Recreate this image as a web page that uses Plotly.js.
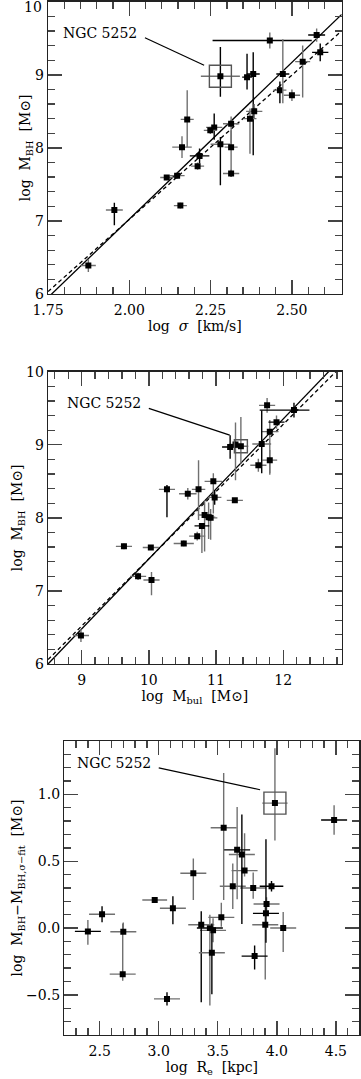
<!DOCTYPE html>
<html>
<head>
<meta charset="utf-8">
<script src="https://cdn.plot.ly/plotly-3.0.1.min.js"></script>
<style>html,body{margin:0;padding:0;background:#fff;}#chart{width:361px;height:1079px;}</style>
</head>
<body>
<div id="chart"></div>
<script>
// ---------- Panel 1: log sigma vs log M_BH ----------
const sig_x   = [2.28, 2.432, 2.576, 2.587, 2.533, 2.472, 2.463, 2.500, 2.362, 2.381, 2.384, 2.371, 2.178, 2.162, 2.261, 2.249, 2.313, 2.28, 2.313, 2.313, 2.216, 2.21, 2.115, 2.147, 2.157, 1.954, 1.874];
const sig_y   = [8.98, 9.47, 9.544, 9.307, 9.18, 9.01, 8.79, 8.72, 8.968, 9.01, 8.50, 8.40, 8.39, 8.01, 8.28, 8.24, 8.33, 8.05, 8.01, 7.65, 7.89, 7.75, 7.595, 7.62, 7.21, 7.15, 6.39];
const sig_exm = [0.06, 0.176, 0.026, 0.025, 0.023, 0.02, 0.02, 0.025, 0.015, 0.02, 0.025, 0.02, 0.02, 0.03, 0.025, 0.02, 0.025, 0.03, 0.02, 0.025, 0.03, 0.02, 0.02, 0.023, 0.02, 0.026, 0.023];
const sig_exp = [0.06, 0.129, 0.026, 0.025, 0.023, 0.02, 0.02, 0.025, 0.015, 0.02, 0.025, 0.02, 0.02, 0.03, 0.025, 0.02, 0.025, 0.03, 0.02, 0.025, 0.03, 0.02, 0.02, 0.023, 0.02, 0.026, 0.023];
const sig_eym = [0.28, 0.11, 0.09, 0.12, 0.49, 0.40, 0.18, 0.08, 0.17, 1.11, 0.10, 0.48, 0.38, 0.15, 0.17, 0.05, 0.35, 0.56, 0.41, 0.05, 0.10, 0.05, 0.02, 0.04, 0.04, 0.21, 0.09];
const sig_eyp = [0.40, 0.11, 0.09, 0.12, 0.22, 0.475, 0.12, 0.08, 0.32, 0.30, 0.10, 0.14, 0.40, 0.15, 0.19, 0.05, 0.10, 0.10, 0.23, 0.05, 0.10, 0.05, 0.02, 0.04, 0.04, 0.10, 0.09];
const sig_cx  = ['g','k','k','k','g','k','g','g','k','k','g','g','g','g','g','g','g','g','g','g','k','g','g','g','g','g','g'];
const sig_cy  = ['k','g','g','k','g','g','k','g','k','k','g','g','g','g','k','g','g','k','g','g','k','g','g','g','g','k','g'];
// fits: y = a + b*x  (solid, dashed)
const sig_fit_a = [-1.555, -0.879];
const sig_fit_b = [4.29, 3.95];

// ---------- Panel 2: log M_bul vs log M_BH ----------
const bul_x   = [11.37, 11.21, 11.29, 11.76, 12.16, 11.90, 11.80, 11.68, 11.63, 11.80, 10.96, 10.27, 10.58, 10.74, 10.98, 11.28, 10.83, 10.89, 10.92, 10.79, 10.72, 10.52, 10.03, 9.63, 9.84, 10.04, 8.99];
const bul_y   = [8.98, 8.97, 9.005, 9.54, 9.475, 9.31, 9.18, 9.01, 8.72, 8.79, 8.50, 8.39, 8.33, 8.39, 8.28, 8.24, 8.04, 8.01, 8.00, 7.89, 7.75, 7.65, 7.595, 7.61, 7.20, 7.15, 6.39];
const bul_exm = [0.11, 0.12, 0.10, 0.12, 0.51, 0.12, 0.13, 0.14, 0.12, 0.11, 0.13, 0.12, 0.13, 0.10, 0.10, 0.12, 0.10, 0.10, 0.10, 0.11, 0.12, 0.15, 0.12, 0.12, 0.12, 0.12, 0.12];
const bul_exp = [0.11, 0.12, 0.10, 0.12, 0.23, 0.12, 0.13, 0.14, 0.12, 0.11, 0.13, 0.12, 0.13, 0.10, 0.10, 0.12, 0.10, 0.10, 0.10, 0.11, 0.12, 0.15, 0.12, 0.12, 0.12, 0.12, 0.12];
const bul_eym = [0.24, 0.16, 0.49, 0.10, 0.10, 0.09, 0.57, 0.40, 0.09, 0.20, 0.44, 0.38, 0.08, 0.42, 0.10, 0.03, 0.50, 0.30, 0.30, 0.37, 0.06, 0.04, 0.02, 0.04, 0.05, 0.21, 0.09];
const bul_eyp = [0.40, 0.16, 0.30, 0.10, 0.10, 0.09, 0.16, 0.46, 0.09, 0.14, 0.11, 0.06, 0.08, 0.40, 0.10, 0.03, 0.20, 0.20, 0.12, 0.03, 0.06, 0.04, 0.02, 0.04, 0.05, 0.11, 0.09];
const bul_cx  = ['g','k','g','g','k','k','g','g','g','g','g','g','g','g','g','g','g','g','g','k','g','g','g','g','g','g','g'];
const bul_cy  = ['g','k','g','g','k','g','g','k','g','g','g','k','g','g','k','g','g','g','g','g','g','g','g','g','g','g','g'];
const bul_fit_a = [-2.143, -1.76];
const bul_fit_b = [0.958, 0.92];

// ---------- Panel 3: log R_e vs residual ----------
const re_x   = [3.984, 4.485, 3.55, 3.664, 3.704, 3.727, 3.293, 3.627, 3.80, 3.955, 3.913, 3.908, 3.902, 4.054, 3.812, 3.53, 3.36, 3.433, 3.46, 3.45, 3.12, 2.966, 2.52, 2.40, 2.70, 2.695, 3.07];
const re_y   = [0.935, 0.808, 0.75, 0.585, 0.55, 0.43, 0.41, 0.313, 0.30, 0.313, 0.18, 0.11, 0.025, 0.0, -0.21, 0.08, 0.025, 0.0, -0.017, -0.185, 0.148, 0.21, 0.103, -0.025, -0.028, -0.345, -0.53];
const re_ex  = [0.107, 0.11, 0.11, 0.11, 0.11, 0.11, 0.11, 0.11, 0.11, 0.10, 0.11, 0.11, 0.11, 0.11, 0.11, 0.11, 0.11, 0.11, 0.11, 0.11, 0.11, 0.105, 0.11, 0.11, 0.11, 0.11, 0.11];
const re_eym = [0.28, 0.11, 0.54, 0.37, 0.52, 0.045, 0.20, 0.17, 0.08, 0.04, 0.05, 0.22, 0.41, 0.18, 0.10, 0.07, 0.58, 0.58, 0.09, 0.31, 0.12, 0.015, 0.06, 0.10, 0.0, 0.05, 0.05];
const re_eyp = [0.41, 0.11, 0.41, 0.32, 0.30, 0.28, 0.11, 0.17, 0.115, 0.04, 0.05, 0.555, 0.15, 0.12, 0.08, 0.11, 0.10, 0.10, 0.09, 0.22, 0.09, 0.015, 0.06, 0.085, 0.07, 0.38, 0.05];
const re_cx  = ['g','k','g','k','g','g','g','g','g','k','g','k','g','g','k','g','g','k','g','g','g','g','g','k','g','g','g'];
const re_cy  = ['g','g','g','g','k','g','g','g','g','k','g','k','g','g','k','g','k','g','g','k','k','g','k','g','g','g','k'];

const labelText = 'NGC 5252';
const mbhTicks = [6, 7, 8, 9, 10];

const FONT = 'DejaVu Serif';
const COL = {k: '#000000', g: '#707070'};
const traces = [];

function addPoints(xa, ya, X, Y, exm, exp, eym, eyp, cx, cy) {
  const groups = {};
  X.forEach((v, i) => { const key = cx[i] + cy[i]; (groups[key] = groups[key] || []).push(i); });
  Object.keys(groups).forEach(key => {
    const idx = groups[key];
    traces.push({
      type: 'scatter', mode: 'markers', xaxis: xa, yaxis: ya, showlegend: false, hoverinfo: 'skip',
      x: idx.map(i => X[i]), y: idx.map(i => Y[i]),
      marker: {symbol: 'square', size: 6, color: '#000'},
      error_x: {type: 'data', symmetric: false, array: idx.map(i => exp[i]), arrayminus: idx.map(i => exm[i]),
                color: COL[key[0]], thickness: 1.4, width: 0},
      error_y: {type: 'data', symmetric: false, array: idx.map(i => eyp[i]), arrayminus: idx.map(i => eym[i]),
                color: COL[key[1]], thickness: 1.4, width: 0}
    });
  });
}
function addBox(xa, ya, X, Y, size) {
  traces.push({type: 'scatter', mode: 'markers', xaxis: xa, yaxis: ya, showlegend: false, hoverinfo: 'skip',
    x: [X[0]], y: [Y[0]], marker: {symbol: 'square-open', size: size, color: '#555', line: {width: 1.4, color: '#555'}}});
}
function addFits(xa, ya, range, A, B) {
  ['solid', '4px,3px'].forEach((dash, k) => {
    traces.push({type: 'scatter', mode: 'lines', xaxis: xa, yaxis: ya, showlegend: false, hoverinfo: 'skip',
      x: range, y: range.map(x => A[k] + B[k] * x),
      line: {color: '#000', width: 1.3, dash: dash}});
  });
}

const r1 = [1.75, 2.653], r2 = [8.5, 12.87], r3 = [2.2, 4.7];
addFits('x', 'y', r1, sig_fit_a, sig_fit_b);
addPoints('x', 'y', sig_x, sig_y, sig_exm, sig_exp, sig_eym, sig_eyp, sig_cx, sig_cy);
addBox('x', 'y', sig_x, sig_y, 22);
addFits('x2', 'y2', r2, bul_fit_a, bul_fit_b);
addPoints('x2', 'y2', bul_x, bul_y, bul_exm, bul_exp, bul_eym, bul_eyp, bul_cx, bul_cy);
addBox('x2', 'y2', bul_x, bul_y, 13);
addPoints('x3', 'y3', re_x, re_y, re_ex, re_ex, re_eym, re_eyp, re_cx, re_cy);
addBox('x3', 'y3', re_x, re_y, 22);

function axis(extra) {
  return Object.assign({
    showline: true, linewidth: 1.4, linecolor: '#222', mirror: 'allticks',
    ticks: 'inside', ticklen: 14, tickwidth: 1.4, tickcolor: '#444',
    showgrid: false, zeroline: false,
    tickfont: {family: FONT, size: 14, color: '#000'},
  }, extra);
}
function minor(d) { return {dtick: d, ticks: 'inside', ticklen: 7, tickwidth: 1.3, tickcolor: '#444', showgrid: false}; }

const ytitle = 'log  M<sub>BH</sub>  [M⊙]';
const tfont = {family: FONT, size: 14, color: '#000'};

const layout = {
  width: 361, height: 1079, margin: {l: 0, r: 0, t: 0, b: 0},
  paper_bgcolor: '#fff', plot_bgcolor: '#fff', showlegend: false,
  xaxis: axis({domain: [0.133, 0.9465], range: r1, anchor: 'y', tick0: 1.75, dtick: 0.25, tickformat: '.2f', minor: minor(0.05),
    ticklabelstandoff: 3, title: {text: 'log  <i>σ</i>  [km/s]', font: tfont, standoff: 4}}),
  yaxis: axis({domain: [0.7275, 0.9984], range: [6, 10], anchor: 'x', tickmode: 'array', tickvals: mbhTicks,
    ticktext: mbhTicks.map(v => v === 10 ? ' ' : String(v)), minor: minor(0.2),
    title: {text: ytitle, font: tfont, standoff: 0}}),
  xaxis2: axis({domain: [0.133, 0.9465], range: r2, anchor: 'y2', dtick: 1, minor: minor(0.2),
    ticklabelstandoff: 3, title: {text: 'log  M<sub>bul</sub>  [M⊙]', font: tfont, standoff: 4}}),
  yaxis2: axis({domain: [0.3846, 0.6555], range: [6, 10], anchor: 'x2', dtick: 1, minor: minor(0.2),
    title: {text: ytitle, font: tfont, standoff: 0}}),
  xaxis3: axis({domain: [0.178, 0.9958], range: r3, anchor: 'y3', tick0: 2.5, dtick: 0.5, tickformat: '.1f', minor: minor(0.1),
    ticklabelstandoff: 3, title: {text: 'log  R<sub>e</sub>  [kpc]', font: tfont, standoff: 4}}),
  yaxis3: axis({domain: [0.0408, 0.3133], range: [-0.8, 1.4], anchor: 'x3', dtick: 0.5, tickformat: '.1f', minor: minor(0.1),
    title: {text: 'log  M<sub>BH</sub>−M<sub>BH,σ−fit</sub>  [M⊙]', font: tfont, standoff: 0}}),
  annotations: [
    {xref: 'paper', yref: 'paper', x: 44 / 361, y: 1 - 7 / 1079, xanchor: 'right', yanchor: 'middle',
     text: String(mbhTicks[mbhTicks.length - 1]), showarrow: false, font: tfont},
    {xref: 'x', yref: 'y', x: 1.911, y: 9.571, text: labelText, showarrow: false, font: tfont},
    {xref: 'x2', yref: 'y2', x: 9.33, y: 9.57, text: labelText, showarrow: false, font: tfont},
    {xref: 'x3', yref: 'y3', x: 2.622, y: 1.236, text: labelText, showarrow: false, font: tfont}
  ],
  shapes: [
    {type: 'line', xref: 'x', yref: 'y', x0: 2.048, y0: 9.507, x1: 2.23, y1: 9.13, line: {color: '#000', width: 1.2}},
    {type: 'line', xref: 'x2', yref: 'y2', x0: 10.0, y0: 9.499, x1: 11.204, y1: 9.133, line: {color: '#000', width: 1.2}},
    {type: 'line', xref: 'x3', yref: 'y3', x0: 3.0, y0: 1.198, x1: 3.858, y1: 1.035, line: {color: '#000', width: 1.2}}
  ]
};

Plotly.newPlot('chart', traces, layout, {staticPlot: true, displayModeBar: false});
</script>
</body>
</html>
